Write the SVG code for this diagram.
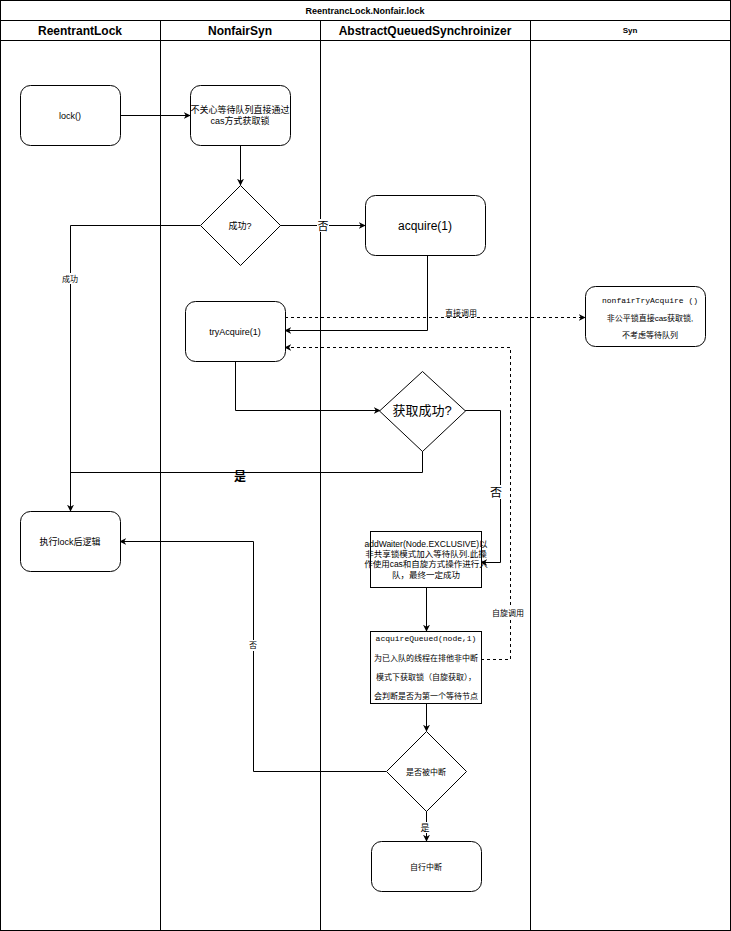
<svg xmlns="http://www.w3.org/2000/svg" width="731" height="931" viewBox="0 0 731 931">
<defs>
<marker id="ar" viewBox="0 0 10 10" refX="9" refY="5" markerWidth="7" markerHeight="7" markerUnits="userSpaceOnUse" orient="auto"><path d="M0,0 L10,5 L0,10 L3,5 z" fill="#000"/></marker>
<style>
.ln{fill:none;stroke:#000;stroke-width:1}
.ds{fill:none;stroke:#000;stroke-width:1;stroke-dasharray:3 3}
.bx{fill:#fff;stroke:#000;stroke-width:1}
.t{font-family:"Liberation Sans","Noto Sans CJK SC",sans-serif;font-size:9px;text-anchor:middle;fill:#000}
.m{font-family:"Liberation Mono","Noto Sans CJK SC",monospace;font-size:9px;text-anchor:middle;fill:#000}
.h{font-family:"Liberation Sans","Noto Sans CJK SC",sans-serif;font-size:12px;font-weight:bold;text-anchor:middle;fill:#000}
.lb{font-family:"Liberation Sans","Noto Sans CJK SC",sans-serif;font-size:8px;text-anchor:middle;fill:#000}
</style>
</defs>
<rect x="0" y="0" width="731" height="931" fill="#fff"/>
<g id="pool">
<rect x="0.5" y="0.5" width="730" height="930" class="ln"/>
<line x1="0" y1="20.5" x2="731" y2="20.5" class="ln"/>
<line x1="0" y1="40.5" x2="731" y2="40.5" class="ln"/>
<line x1="160.5" y1="20" x2="160.5" y2="931" class="ln"/>
<line x1="320.5" y1="20" x2="320.5" y2="931" class="ln"/>
<line x1="530.5" y1="20" x2="530.5" y2="931" class="ln"/>
<text x="365" y="14" class="t" style="font-weight:bold">ReentrancLock.Nonfair.lock</text>
<text x="80" y="35" class="h">ReentrantLock</text>
<text x="240" y="35" class="h">NonfairSyn</text>
<text x="425" y="35" class="h">AbstractQueuedSynchroinizer</text>
<text x="630" y="33" class="lb" style="font-weight:bold">Syn</text>
</g>
<g id="connectors">
<line x1="120" y1="115.5" x2="190" y2="115.5" class="ln" marker-end="url(#ar)"/>
<line x1="240.5" y1="145" x2="240.5" y2="185" class="ln" marker-end="url(#ar)"/>
<polyline points="200,225.5 70.5,225.5 70.5,511" class="ln" marker-end="url(#ar)"/>
<line x1="280" y1="225.5" x2="365" y2="225.5" class="ln" marker-end="url(#ar)"/>
<polyline points="427.5,255 427.5,330.5 285,330.5" class="ln" marker-end="url(#ar)"/>
<line x1="285" y1="317.5" x2="585" y2="317.5" class="ds" marker-end="url(#ar)"/>
<polyline points="481,659.5 510.5,659.5 510.5,347.5 285,347.5" class="ds" marker-end="url(#ar)"/>
<polyline points="235.5,361 235.5,410.5 380,410.5" class="ln" marker-end="url(#ar)"/>
<polyline points="422.5,451 422.5,472.5 70.5,472.5" class="ln"/>
<polyline points="465,410.5 500.5,410.5 500.5,562.5 481,562.5" class="ln" marker-end="url(#ar)"/>
<line x1="426.5" y1="587" x2="426.5" y2="631" class="ln" marker-end="url(#ar)"/>
<line x1="426.5" y1="703" x2="426.5" y2="731" class="ln" marker-end="url(#ar)"/>
<polyline points="386,771.5 253.5,771.5 253.5,541.5 120,541.5" class="ln" marker-end="url(#ar)"/>
<line x1="426.5" y1="811" x2="426.5" y2="841" class="ln" marker-end="url(#ar)"/>
<rect x="62" y="273" width="17" height="11" fill="#fff"/>
<text x="70" y="282" class="lb">成功</text>
<rect x="317" y="219" width="12" height="13" fill="#fff"/>
<text x="323" y="230" class="t" style="font-size:11px">否</text>
<text x="461" y="316" class="lb">直接调用</text>
<text x="240" y="481" class="t" style="font-size:12px;font-weight:bold">是</text>
<rect x="490" y="485" width="14" height="14" fill="#fff"/>
<text x="496" y="497" class="t" style="font-size:12px">否</text>
<rect x="491" y="607" width="34" height="11" fill="#fff"/>
<text x="508" y="616" class="lb">自旋调用</text>
<rect x="248" y="640" width="10" height="11" fill="#fff"/>
<text x="253" y="648" class="lb">否</text>
<rect x="419" y="822" width="14" height="11" fill="#fff"/>
<text x="425" y="831" class="t">是</text>
</g>
<g id="lock">
<rect x="20.5" y="85.5" width="100" height="60" rx="10" class="bx"/>
<text x="70" y="119" class="t">lock()</text>
</g>
<g id="nonfair-cas">
<rect x="190.5" y="85.5" width="100" height="60" rx="10" class="bx"/>
<text x="240" y="113" class="t">不关心等待队列直接通过</text>
<text x="240" y="124" class="t">cas方式获取锁</text>
</g>
<g id="success-q">
<polygon points="240.5,185.5 280.5,225.5 240.5,265.5 200.5,225.5" class="bx"/>
<text x="240" y="229" class="t">成功?</text>
</g>
<g id="acquire">
<rect x="365.5" y="195.5" width="120" height="60" rx="10" class="bx"/>
<text x="425" y="230" class="t" style="font-size:12px">acquire(1)</text>
</g>
<g id="tryAcquire">
<rect x="185.5" y="301.5" width="100" height="60" rx="10" class="bx"/>
<text x="235" y="335" class="t">tryAcquire(1)</text>
</g>
<g id="nonfairTryAcquire">
<rect x="585.5" y="286.5" width="120" height="60" rx="10" class="bx"/>
<text x="650" y="303" class="m" style="font-size:8px">nonfairTryAcquire ()</text>
<text x="650" y="321" class="lb">非公平锁直接cas获取锁,</text>
<text x="650" y="338" class="lb">不考虑等待队列</text>
</g>
<g id="acquire-success-q">
<polygon points="422.5,371.5 465.5,411 422.5,451.5 379.5,411" class="bx"/>
<text x="422" y="415" class="t" style="font-size:13px">获取成功?</text>
</g>
<g id="after-lock">
<rect x="20.5" y="511.5" width="100" height="60" rx="10" class="bx"/>
<text x="70" y="545" class="t">执行lock后逻辑</text>
</g>
<g id="addWaiter">
<rect x="370.5" y="531.5" width="111" height="56" class="bx"/>
<text x="426" y="547" class="t" style="font-size:8.5px">addWaiter(Node.EXCLUSIVE)以</text>
<text x="426" y="557" class="t" style="font-size:8.5px">非共享锁模式加入等待队列.此操</text>
<text x="426" y="567" class="t" style="font-size:8.5px">作使用cas和自旋方式操作进行入</text>
<text x="426" y="578" class="t" style="font-size:8.5px">队，最终一定成功</text>
</g>
<g id="acquireQueued">
<rect x="370.5" y="631.5" width="111" height="72" class="bx"/>
<text x="426" y="641" class="m" style="font-size:8px">acquireQueued(node,1)</text>
<text x="426" y="661" class="lb">为已入队的线程在排他非中断</text>
<text x="426" y="680" class="lb">模式下获取锁（自旋获取），</text>
<text x="426" y="699" class="lb">会判断是否为第一个等待节点</text>
</g>
<g id="interrupted-q">
<polygon points="426.5,731.5 466.5,771.5 426.5,811.5 386.5,771.5" class="bx"/>
<text x="426" y="775" class="lb">是否被中断</text>
</g>
<g id="self-interrupt">
<rect x="371.5" y="841.5" width="110" height="50" rx="10" class="bx"/>
<text x="426" y="870" class="lb">自行中断</text>
</g>
</svg>
